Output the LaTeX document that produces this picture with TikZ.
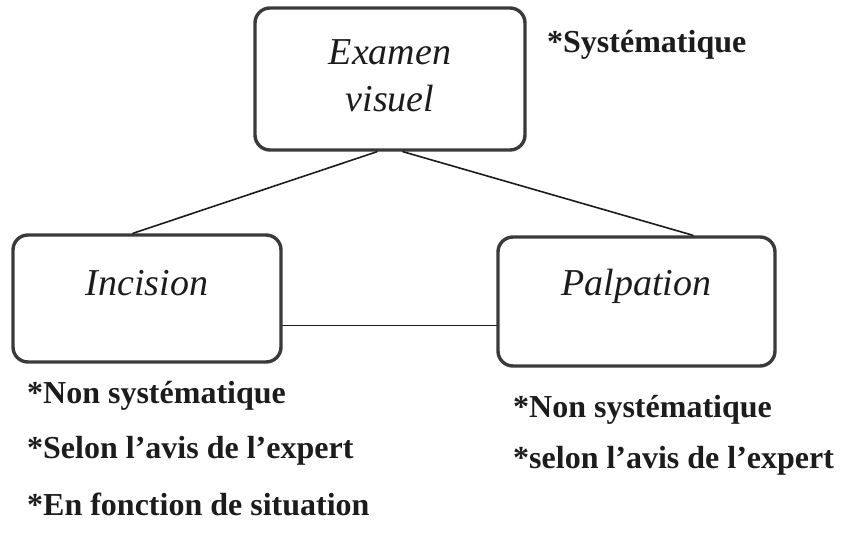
\documentclass[tikz,border=0pt]{standalone}
\usepackage{fontspec}
\setmainfont{Liberation Serif}
\usetikzlibrary{positioning,calc}
\definecolor{inkgray}{HTML}{1C1C1C}
\definecolor{framegray}{HTML}{3A3A3A}

\begin{document}
\begin{tikzpicture}[x=1pt,y=-1pt,line cap=round,line join=round,
    panel/.style={draw=framegray,line width=3.4pt,rounded corners=15pt,inner sep=0pt},
    panellabel/.style={text=inkgray,font=\fontsize{38}{47}\selectfont\itshape,align=center,inner sep=0pt},
    remark/.style={text=inkgray,font=\fontsize{32}{38}\selectfont\bfseries,anchor=base west,inner sep=0pt},
    link/.style={draw=inkgray,line width=1.6pt}]
  \useasboundingbox (0,0) rectangle (841,544);

  % The three examination steps.
  \node[panel,minimum width=270pt,minimum height=142pt] (examen) at (390,79) {};
  \node[panel,minimum width=268pt,minimum height=127pt] (incision) at (147,298.5) {};
  \node[panel,minimum width=277pt,minimum height=129pt] (palpation) at (636.5,301.5) {};

  \node[panellabel] (examenlbl) at ([yshift=3pt]examen.center) {Examen\\visuel};
  \node[panellabel,anchor=base] (incisionlbl) at ([yshift=3.5pt]incision.center) {Incision};
  \node[panellabel,anchor=base] (palpationlbl) at ([yshift=6.5pt]palpation.center) {Palpation};

  % Links between the steps.
  \draw[link] ([xshift=-13pt]examen.south) -- ([xshift=-14pt]incision.north);
  \draw[link] ([xshift=13pt]examen.south) -- ([xshift=56.5pt]palpation.north);
  \draw[link] ([yshift=-27pt]incision.east) -- ([yshift=-27pt]incision.east -| palpation.west);

  % Remarks beside and below each box.
  \node[remark] (examennote) at (547,52) {*Systématique};
  \node[remark] (incisionnote1) at (27,403) {*Non systématique};
  \node[remark] (incisionnote2) at (27,458) {*Selon l’avis de l’expert};
  \node[remark] (incisionnote3) at (27,515) {*En fonction de situation};
  \node[remark] (palpationnote1) at (513,417) {*Non systématique};
  \node[remark] (palpationnote2) at (513,468) {*selon l’avis de l’expert};
\end{tikzpicture}
\end{document}
